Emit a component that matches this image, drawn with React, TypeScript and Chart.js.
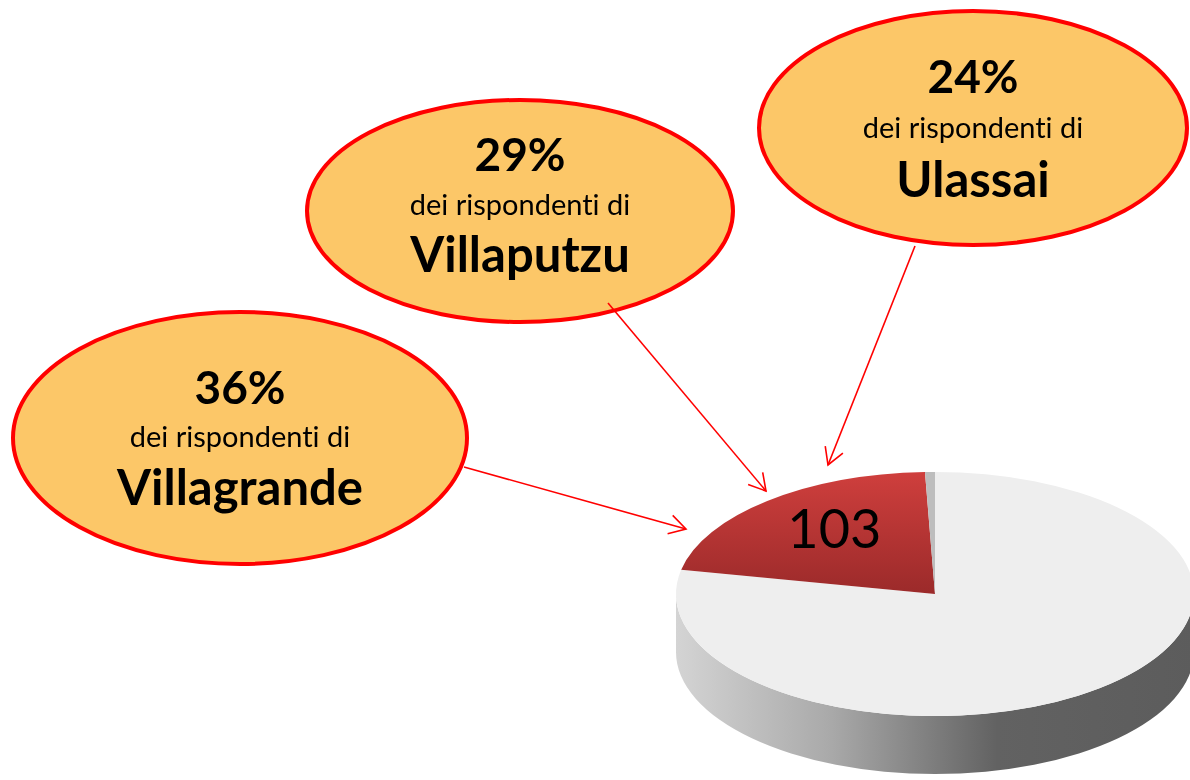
import React, { useEffect, useRef } from "react";
import { Chart, registerables } from "chart.js";

Chart.register(...registerables);

// ---- data ----
const sliceLabels = ["Altri", "Rispondenti", "Non classificati"];
const sliceValues = [380, 103, 3];
const towns = ["Villagrande", "Villaputzu", "Ulassai"];
const townShares = [36, 29, 24];
const captionText = "dei rispondenti di";

// ---- styling / layout ----
const TILT = 122 / 259;
const PIE_SCREEN_CY = 594;
const PIE_DEPTH = 58;
const FONT = "Lato, 'Open Sans', sans-serif";

const sideStops: [number, string][][] = [
  [[0, "#d4d4d4"], [0.3, "#a9a9a9"], [0.62, "#626262"], [1, "#5c5c5c"]],
  [[0, "#b03030"], [1, "#6a1a1a"]],
  [[0, "#a0a0a0"], [1, "#707070"]],
];

const callouts = [
  { cx: 240, cy: 438, rx: 227, ry: 126, pctY: 404, subY: 447, townY: 505, from: [464, 467], to: [686, 529] },
  { cx: 520, cy: 211, rx: 213, ry: 111, pctY: 171, subY: 215, townY: 272, from: [608, 303], to: [766, 491] },
  { cx: 973, cy: 128, rx: 214, ry: 117, pctY: 93, subY: 138, townY: 197, from: [915, 246], to: [828, 465] },
];

function frontSegments(s: number, e: number): [number, number][] {
  const out: [number, number][] = [];
  for (let k = -2; k <= 2; k++) {
    const a = 2 * Math.PI * k;
    const b = a + Math.PI;
    const lo = Math.max(s, a);
    const hi = Math.min(e, b);
    if (hi > lo) out.push([lo, hi]);
  }
  return out;
}

function arrowHead(from: number[], to: number[]) {
  const ang = Math.atan2(to[1] - from[1], to[0] - from[0]);
  const len = 19;
  const spread = (30 * Math.PI) / 180;
  const p1 = [to[0] - len * Math.cos(ang - spread), to[1] - len * Math.sin(ang - spread)];
  const p2 = [to[0] - len * Math.cos(ang + spread), to[1] - len * Math.sin(ang + spread)];
  return `M${p1[0]},${p1[1]} L${to[0]},${to[1]} L${p2[0]},${p2[1]}`;
}

export default function App() {
  const ref = useRef<HTMLCanvasElement>(null);

  useEffect(() => {
    const canvas = ref.current!;
    const pie3d = {
      id: "pie3d",
      beforeDatasetsDraw(chart: any) {
        const ctx = chart.ctx as CanvasRenderingContext2D;
        const meta = chart.getDatasetMeta(0);
        const first = meta.data[0] as any;
        const cx = first.x;
        const cyChart = first.y;
        const r = first.outerRadius;
        const ry = r * TILT;
        const cy = PIE_SCREEN_CY;
        ctx.save();
        meta.data.forEach((el: any, i: number) => {
          frontSegments(el.startAngle, el.endAngle).forEach(([s, e]) => {
            const g = ctx.createLinearGradient(cx - r, 0, cx + r, 0);
            sideStops[i].forEach(([o, c]) => g.addColorStop(o, c));
            ctx.beginPath();
            ctx.ellipse(cx, cy, r, ry, 0, s, e, false);
            ctx.ellipse(cx, cy + PIE_DEPTH, r, ry, 0, e, s, true);
            ctx.closePath();
            ctx.fillStyle = g;
            ctx.fill();
          });
        });
        ctx.restore();
        ctx.save();
        ctx.translate(0, cy);
        ctx.scale(1, TILT);
        ctx.translate(0, -cyChart);
      },
      afterDatasetsDraw(chart: any) {
        const ctx = chart.ctx as CanvasRenderingContext2D;
        ctx.restore();
        const el = chart.getDatasetMeta(0).data[1] as any;
        const mid = (el.startAngle + el.endAngle) / 2;
        const rr = el.outerRadius * 0.6;
        const x = el.x + Math.cos(mid) * rr;
        const y = PIE_SCREEN_CY + Math.sin(mid) * rr * TILT - 8;
        ctx.save();
        ctx.font = `54px ${FONT}`;
        ctx.fillStyle = "#000";
        ctx.textAlign = "center";
        ctx.textBaseline = "middle";
        ctx.fillText(String(sliceValues[1]), x, y);
        ctx.restore();
      },
    };

    const chart = new Chart(canvas, {
      type: "pie",
      data: {
        labels: sliceLabels,
        datasets: [
          {
            data: sliceValues,
            backgroundColor: (c: any) => {
              const i = c.dataIndex;
              if (i === 0) return "#eeeeee";
              if (i === 2) return "#bdbdbd";
              const ch = c.chart;
              const ca = ch.chartArea;
              if (!ca) return "#b33533";
              const g = ch.ctx.createLinearGradient(0, ca.top, 0, (ca.top + ca.bottom) / 2);
              g.addColorStop(0, "#cf3f3d");
              g.addColorStop(1, "#9b2a2a");
              return g;
            },
            borderWidth: 0,
            hoverOffset: 0,
            clip: false,
          } as any,
        ],
      },
      options: {
        responsive: false,
        devicePixelRatio: 1,
        animation: false,
        layout: { padding: { left: 676, right: 106, top: 41, bottom: 221 } },
        plugins: { legend: { display: false }, tooltip: { enabled: false } },
        events: [],
      },
      plugins: [pie3d],
    });
    return () => chart.destroy();
  }, []);

  return (
    <div
      style={{
        position: "fixed",
        left: 0,
        top: 0,
        width: 1190,
        height: 780,
        overflow: "hidden",
        background: "#ffffff",
      }}
    >
      <canvas
        ref={ref}
        width={1300}
        height={780}
        style={{ position: "absolute", left: 0, top: 0, width: 1300, height: 780 }}
      />
      <svg
        width={1190}
        height={780}
        style={{ position: "absolute", left: 0, top: 0, fontVariantLigatures: "none" }}
        fontFamily={FONT}
      >
        {callouts.map((b, i) => (
          <g key={towns[i]}>
            <ellipse cx={b.cx} cy={b.cy} rx={b.rx} ry={b.ry} fill="#fcc768" stroke="#ff0000" strokeWidth={4} />
            <text x={b.cx} y={b.pctY} textAnchor="middle" fontWeight={700} fontSize={46} fill="#000">
              {townShares[i]}%
            </text>
            <text x={b.cx} y={b.subY} textAnchor="middle" fontSize={29} fill="#000">
              {captionText}
            </text>
            <text x={b.cx} y={b.townY} textAnchor="middle" fontWeight={700} fontSize={49} fill="#000">
              {towns[i]}
            </text>
          </g>
        ))}
        {callouts.map((b, i) => (
          <g key={"a" + i} stroke="#ff0000" strokeWidth={1.6} fill="none">
            <line x1={b.from[0]} y1={b.from[1]} x2={b.to[0]} y2={b.to[1]} />
            <path d={arrowHead(b.from, b.to)} />
          </g>
        ))}
      </svg>
    </div>
  );
}
